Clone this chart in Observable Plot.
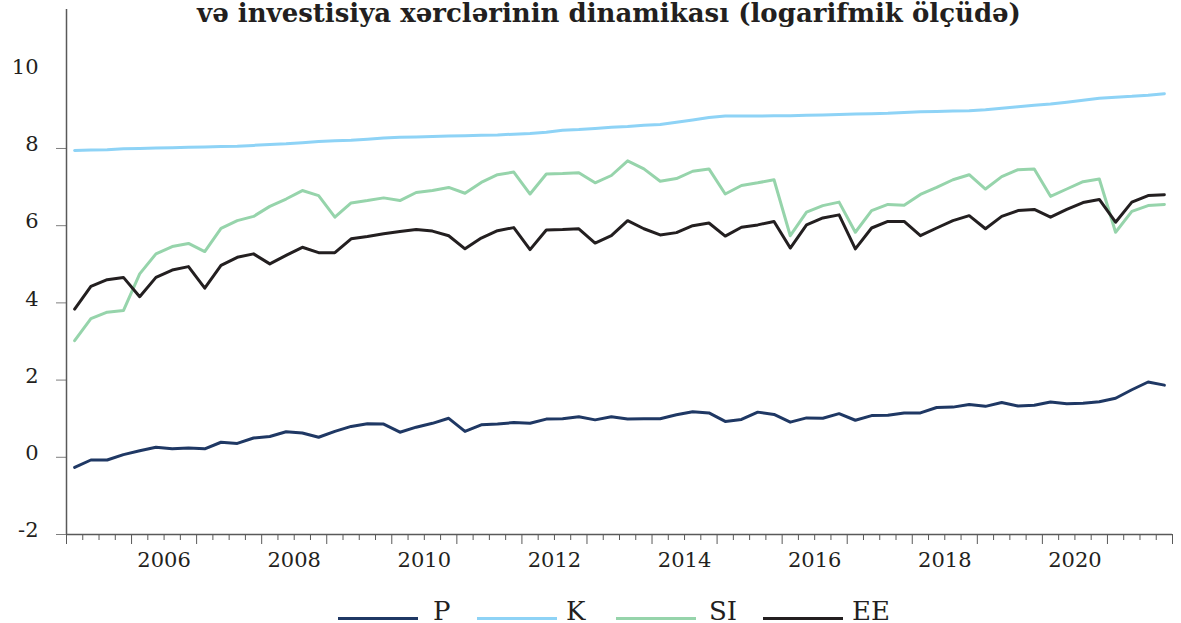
<!DOCTYPE html>
<html>
<head>
<meta charset="utf-8">
<script src="https://cdn.jsdelivr.net/npm/d3@7"></script>
<script src="https://cdn.jsdelivr.net/npm/@observablehq/plot@0.6"></script>
<style>
  body { margin: 0; background: #fff; }
  #wrap { position: relative; width: 1181px; height: 623px; overflow: hidden; font-family: "DejaVu Serif", serif; color: #231f20; }
  #title { position: absolute; left: 0; top: 0px; width: 1218px; text-align: center; font-weight: bold; font-size: 26px; line-height: 26px; white-space: nowrap; z-index: 2; }
  #chart { position: absolute; left: 0; top: 0; }
  .leg-line { position: absolute; height: 3px; width: 80px; top: 617px; }
  .leg-text { position: absolute; top: 598px; font-size: 26px; line-height: 26px; }
</style>
</head>
<body>
<div id="wrap">
  <div id="chart"></div>
  <div id="title">və investisiya xərclərinin dinamikası (logarifmik ölçüdə)</div>
  <div id="legend"></div>
</div>
<script>
// ---- data (quarterly, 2005Q1 – 2021Q4) ----
const startYear = 2005;
const seriesNames = ["P", "K", "SI", "EE"];
const seriesColors = ["#1f3864", "#8ed3f6", "#96d4ab", "#231f20"];

const P = [
  -0.26, -0.07, -0.07, 0.07, 0.17, 0.26, 0.22, 0.24,
  0.22, 0.39, 0.36, 0.50, 0.54, 0.66, 0.63, 0.52,
  0.67, 0.80, 0.87, 0.86, 0.65, 0.78, 0.88, 1.01,
  0.67, 0.84, 0.86, 0.90, 0.88, 0.99, 1.00, 1.05,
  0.97, 1.05, 0.99, 1.00, 1.00, 1.10, 1.18, 1.15,
  0.93, 0.98, 1.17, 1.11, 0.91, 1.02, 1.01, 1.13,
  0.96, 1.08, 1.09, 1.15, 1.15, 1.29, 1.30, 1.37,
  1.32, 1.42, 1.33, 1.35, 1.43, 1.39, 1.40, 1.44,
  1.53, 1.75, 1.95, 1.87
];
const K = [
  7.95, 7.96, 7.97, 7.99, 8.00, 8.01, 8.02, 8.03,
  8.04, 8.05, 8.06, 8.08, 8.10, 8.12, 8.15, 8.18,
  8.20, 8.21, 8.24, 8.27, 8.29, 8.30, 8.31, 8.32,
  8.33, 8.34, 8.35, 8.37, 8.39, 8.42, 8.47, 8.49,
  8.52, 8.55, 8.57, 8.60, 8.62, 8.68, 8.74, 8.80,
  8.84, 8.84, 8.84, 8.85, 8.85, 8.86, 8.87, 8.88,
  8.89, 8.90, 8.91, 8.93, 8.95, 8.96, 8.97, 8.98,
  9.00, 9.04, 9.08, 9.12, 9.15, 9.20, 9.25, 9.30,
  9.33, 9.35, 9.38, 9.42
];
const SI = [
  3.02, 3.59, 3.76, 3.80, 4.75, 5.27, 5.46, 5.54,
  5.33, 5.93, 6.13, 6.24, 6.50, 6.69, 6.91, 6.78,
  6.22, 6.59, 6.65, 6.72, 6.65, 6.86, 6.91, 6.99,
  6.84, 7.12, 7.32, 7.39, 6.82, 7.34, 7.35, 7.37,
  7.11, 7.30, 7.68, 7.47, 7.15, 7.22, 7.41, 7.47,
  6.82, 7.04, 7.11, 7.19, 5.74, 6.35, 6.52, 6.61,
  5.83, 6.39, 6.55, 6.53, 6.81, 6.99, 7.19, 7.32,
  6.95, 7.27, 7.45, 7.47, 6.76, 6.95, 7.14, 7.21,
  5.83, 6.37, 6.52, 6.55
];
const EE = [
  3.84, 4.43, 4.60, 4.66, 4.16, 4.66, 4.85, 4.94,
  4.38, 4.97, 5.18, 5.27, 5.01, 5.23, 5.44, 5.30,
  5.30, 5.66, 5.72, 5.79, 5.85, 5.90, 5.86, 5.74,
  5.40, 5.68, 5.87, 5.95, 5.38, 5.89, 5.90, 5.92,
  5.55, 5.74, 6.13, 5.92, 5.76, 5.82, 6.00, 6.07,
  5.73, 5.96, 6.02, 6.11, 5.42, 6.02, 6.20, 6.28,
  5.40, 5.94, 6.11, 6.11, 5.74, 5.94, 6.13, 6.26,
  5.92, 6.24, 6.39, 6.42, 6.22, 6.42, 6.60, 6.68,
  6.09, 6.61, 6.78, 6.80
];
const yTickLabels = [-2, 0, 2, 4, 6, 8, 10];
const yTickMarks = [-2, 0, 2, 4, 6, 8];
const xLabelYears = [2006, 2008, 2010, 2012, 2014, 2016, 2018, 2020];
const endYear = 2022;

// ---- build table ----
const seriesValues = [P, K, SI, EE];
const rows = [];
seriesNames.forEach((name, s) => {
  seriesValues[s].forEach((v, i) => {
    rows.push({ name, t: startYear + (i + 0.5) / 4, v });
  });
});
const yearTicks = d3.range(startYear, endYear + 1);
const quarterTicks = d3.range(startYear * 4, endYear * 4 + 1).map(q => q / 4).filter(q => q % 1 !== 0);

const chart = Plot.plot({
  width: 1181,
  height: 585,
  marginLeft: 66,
  marginRight: 9,
  marginTop: 9,
  marginBottom: 51,
  x: { domain: [startYear, endYear], label: null },
  y: { domain: [-2, 11.6], label: null },
  color: { domain: seriesNames, range: seriesColors },
  style: { fontFamily: "DejaVu Serif", fontSize: "21px", color: "#231f20", background: "transparent" },
  marks: [
    Plot.axisY({ ticks: yTickMarks, tickSize: 10, tickFormat: () => "", stroke: "#7f7f7f", label: null }),
    Plot.axisY({ ticks: yTickLabels, tickSize: 0, tickPadding: 28, dy: -4, fontSize: 21, fill: "#231f20", tickFormat: d => String(d), label: null }),
    Plot.axisX({ ticks: yearTicks, tickSize: 10, tickFormat: () => "", stroke: "#595959", label: null }),
    Plot.axisX({ ticks: quarterTicks, tickSize: 6, tickFormat: () => "", stroke: "#595959", label: null }),
    Plot.axisX({ ticks: xLabelYears.map(y => y + 0.5), tickSize: 0, tickPadding: 18, tickFormat: d => String(d - 0.5), fontSize: 21, fill: "#231f20", label: null }),
    Plot.ruleX([startYear], { stroke: "#595959", strokeWidth: 1.5 }),
    Plot.ruleY([-2], { stroke: "#595959", strokeWidth: 1.5 }),
    Plot.lineY(rows, { x: "t", y: "v", z: "name", stroke: "name", strokeWidth: 3, strokeLinejoin: "round" })
  ]
});
document.getElementById("chart").appendChild(chart);

// ---- legend ----
const legendPos = [[338, 433], [477, 566], [616, 709], [763, 852]];
const legend = document.getElementById("legend");
seriesNames.forEach((name, i) => {
  const line = document.createElement("div");
  line.className = "leg-line";
  line.style.left = legendPos[i][0] + "px";
  line.style.background = seriesColors[i];
  legend.appendChild(line);
  const txt = document.createElement("div");
  txt.className = "leg-text";
  txt.style.left = legendPos[i][1] + "px";
  txt.textContent = name;
  legend.appendChild(txt);
});
</script>
</body>
</html>
